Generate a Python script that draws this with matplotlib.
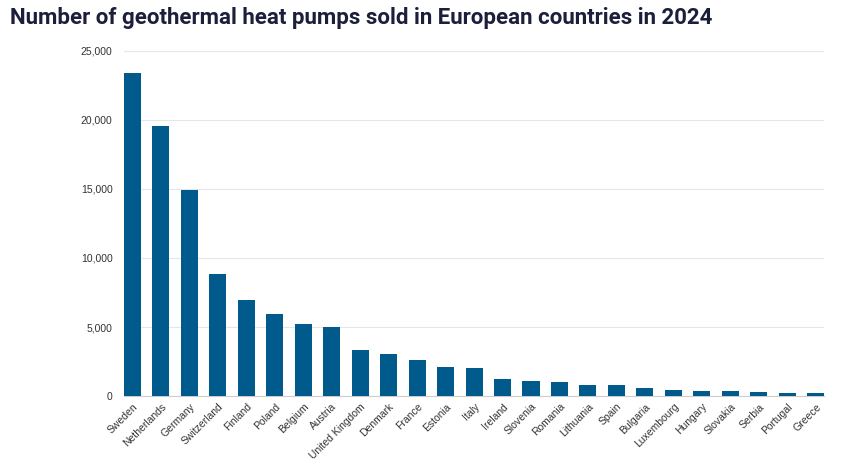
import matplotlib.pyplot as plt

countries = ["Sweden", "Netherlands", "Germany", "Switzerland", "Finland", "Poland",
             "Belgium", "Austria", "United Kingdom", "Denmark", "France", "Estonia",
             "Italy", "Ireland", "Slovenia", "Romania", "Lithuania", "Spain",
             "Bulgaria", "Luxembourg", "Hungary", "Slovakia", "Serbia", "Portugal", "Greece"]
sold = [23400, 19550, 14950, 8850, 6950, 5950, 5200, 5000, 3300, 3070, 2630, 2100,
        2030, 1200, 1060, 1050, 820, 800, 560, 430, 390, 340, 270, 240, 200]
yticks = [0, 5000, 10000, 15000, 20000, 25000]

fig = plt.figure(figsize=(8.42, 4.72), dpi=100)
ax = fig.add_axes([0.147, 0.161, 0.832, 0.731])

ax.bar(range(len(countries)), sold, width=0.6, color="#005a8c", zorder=3)
ax.set_xlim(-0.3, len(countries) - 0.7)
ax.set_ylim(0, 25000)
ax.set_yticks(yticks)
ax.set_yticklabels([f"{v:,}" for v in yticks], fontsize=7.5, color="#333333",
                   family="Liberation Sans")
ax.set_xticks(range(len(countries)))
ax.set_xticklabels(countries, rotation=45, ha="right", rotation_mode="anchor",
                   fontsize=7.5, color="#333333", family="Liberation Sans")
ax.tick_params(axis="both", length=0, pad=4)
ax.tick_params(axis="y", pad=8)
ax.grid(axis="y", color="#e6e6e6", linewidth=0.8, zorder=0)
for s in ["top", "right", "left"]:
    ax.spines[s].set_visible(False)
ax.spines["bottom"].set_color("#cccccc")
ax.spines["bottom"].set_linewidth(0.8)

fig.text(0.012, 0.985, "Number of geothermal heat pumps sold in European countries in 2024",
         fontsize=16, fontweight="bold", color="#1b1f3b", va="top", ha="left",
         family="Roboto")

fig.savefig("out.png", dpi=100)
